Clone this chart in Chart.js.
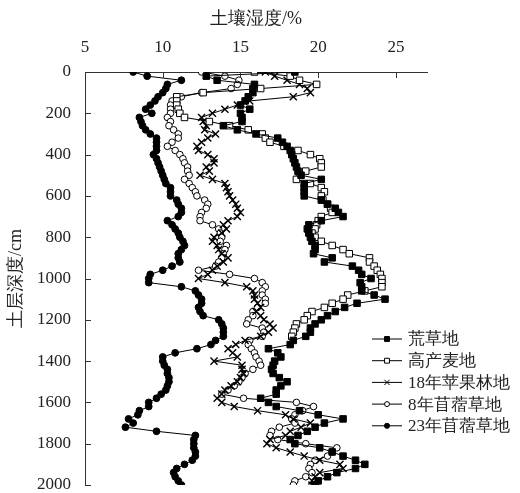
<!DOCTYPE html>
<html>
<head>
<meta charset="utf-8">
<script src="https://cdn.jsdelivr.net/npm/chart.js@4.4.1/dist/chart.umd.min.js"></script>
<style>
  html, body { margin: 0; padding: 0; background: #fff; }
  canvas { display: block; }
</style>
</head>
<body>
<canvas id="moisture" width="520" height="493"></canvas>
<script>
// soil depth of each sample, cm
var depthCm = [
  0, 20, 40, 60, 80, 100, 120, 140, 160, 180,
  200, 220, 240, 260, 280, 300, 320, 340, 360, 380,
  400, 420, 440, 460, 480, 500, 520, 540, 560, 580,
  600, 620, 640, 660, 680, 700, 720, 740, 760, 780,
  800, 820, 840, 860, 880, 900, 920, 940, 960, 980,
  1000, 1020, 1040, 1060, 1080, 1100, 1120, 1140, 1160, 1180,
  1200, 1220, 1240, 1260, 1280, 1300, 1320, 1340, 1360, 1380,
  1400, 1420, 1440, 1460, 1480, 1500, 1520, 1540, 1560, 1580,
  1600, 1620, 1640, 1660, 1680, 1700, 1720, 1740, 1760, 1780,
  1800, 1820, 1840, 1860, 1880, 1900, 1920, 1940, 1960, 1980,
  2000
];

var seriesNames = ['荒草地', '高产麦地', '18年苹果林地', '8年苜蓿草地', '23年苜蓿草地'];

// soil moisture, %
var wasteland = [
  18.5, 12.8, 13.5, 15.9, 15.8, 15.8, 15.5, 15.3, 15.0, 15.6,
  15.0, 15.1, 15.1, 13.9, 14.8, 16.0, 17.4, 17.7, 18.0, 18.2,
  18.3, 18.4, 18.5, 18.6, 18.7, 18.9, 20.2, 19.1, 19.1, 19.1,
  19.1, 20.2, 20.6, 21.1, 21.3, 21.6, 20.2, 19.4, 19.3, 19.4,
  19.5, 19.6, 19.8, 19.8, 19.7, 20.9, 20.4, 22.2, 22.6, 22.8,
  23.4, 22.7, 22.8, 22.8, 23.6, 24.3, 22.5, 21.7, 21.1, 20.6,
  20.2, 19.8, 19.5, 19.5, 19.2, 18.4, 18.2, 16.8, 17.4, 17.6,
  17.2, 17.1, 17.0, 17.1, 17.5, 18.0, 17.6, 17.3, 17.3, 16.3,
  16.8, 17.3, 18.8, 20.0, 21.6, 20.4, 19.8, 19.3, 18.7, 18.2,
  18.5, 20.1, 20.9, 21.6, 22.4, 23.0, 22.4, 21.2, 20.6, 20.0,
  19.8
];

var wheat = [
  15.9, 18.2, 18.8, 19.9, 16.3, 12.6, 10.9, 10.9, 10.9, 11.0,
  11.1, 11.4, 13.0, 14.3, 15.5, 16.4, 16.6, 16.9, 17.8, 18.7,
  19.5, 20.1, 20.2, 20.2, 19.2, 18.8, 18.6, 19.5, 20.2, 20.4,
  20.2, 20.3, 20.6, 20.8, 20.9, 20.2, 20.0, 19.9, 19.8, 19.6,
  19.8, 20.2, 20.9, 21.6, 22.0, 23.3, 23.3, 23.6, 23.8, 24.0,
  24.1, 24.1, 24.1, 23.0, 21.9, 21.6, 20.9, 20.4, 19.6, 19.3,
  19.1, 18.6, 18.5, 18.4, 18.3
];

var apple18 = [
  16.6, 17.2, 18.0, 18.8, 19.3, 19.5, 18.4, 15.6, 14.8, 14.0,
  13.2, 12.5, 12.6, 12.8, 12.7, 13.4, 12.9, 12.5, 12.2, 12.3,
  12.9, 13.3, 13.3, 12.8, 13.0, 12.4, 13.2, 14.0, 14.1, 14.2,
  14.3, 14.5, 14.7, 14.8, 15.0, 14.8, 14.2, 13.9, 14.1, 13.8,
  13.3, 13.2, 13.5, 13.6, 13.8, 14.2, 13.9, 13.5, 13.2, 12.9,
  12.3, 14.0, 15.4, 15.8, 15.9, 15.9, 16.1, 16.3, 16.0, 16.3,
  16.5, 16.9, 17.1, 16.8, 16.3, 15.3, 14.7, 14.2, 14.5, 14.8,
  13.3, 15.1, 15.1, 15.2, 15.0, 14.8, 14.4, 14.0, 13.8, 13.5,
  13.8, 14.6, 16.1, 17.9, 18.4, 19.5, 18.9, 18.2, 17.9, 16.9,
  16.7, 17.3, 18.2, 19.1, 20.1, 21.4, 21.6, 20.1, 19.8, 19.6,
  19.6
];

var alfalfa8 = [
  12.5, 14.0, 14.9, 14.8, 14.4, 12.5, 11.2, 10.6, 10.5, 10.5,
  10.5, 10.3, 10.5, 10.4, 10.7, 11.0, 11.0, 10.6, 10.3, 10.8,
  11.1, 11.3, 11.4, 11.6, 11.6, 11.7, 11.4, 11.7, 11.9, 12.1,
  12.2, 12.7, 12.9, 12.8, 12.5, 12.4, 12.4, 13.2, 13.6, 13.7,
  13.8, 13.7, 14.1, 14.0, 13.9, 13.8, 13.6, 13.4, 12.3, 14.3,
  15.9, 16.4, 16.6, 16.4, 16.4, 16.6, 16.6, 16.1, 15.8, 15.8,
  15.5, 15.4, 16.4, 16.5, 16.4, 15.6, 15.5, 15.7, 15.9, 16.0,
  16.2, 16.3, 15.8, 15.3, 15.1, 14.9, 14.6, 14.2, 13.8, 15.2,
  18.6, 19.7, 19.0, 18.5, 18.3, 18.5, 17.5, 17.0, 16.9, 17.4,
  19.2, 21.2, 20.9, 20.6, 19.8, 19.5, 19.4, 19.6, 19.2, 18.5,
  18.4
];

var alfalfa23 = [
  8.1, 9.0, 11.2, 10.3, 10.2, 10.0, 9.7, 9.5, 9.2, 8.9,
  9.3, 8.5, 8.6, 8.7, 8.9, 9.2, 9.6, 9.6, 9.6, 9.6,
  9.4, 9.6, 9.7, 9.8, 9.9, 10.0, 10.1, 10.2, 10.5, 10.5,
  10.5, 10.9, 11.0, 11.2, 11.2, 11.0, 10.3, 10.6, 10.8, 11.0,
  11.1, 11.3, 11.4, 11.2, 11.0, 11.0, 11.1, 10.6, 10.0, 9.2,
  9.1, 9.1, 11.2, 12.1, 12.3, 12.5, 12.5, 12.3, 12.4, 12.6,
  13.6, 13.8, 13.9, 13.9, 13.9, 13.4, 13.1, 12.2, 10.8, 10.0,
  10.0, 10.1, 10.3, 10.3, 10.4, 10.4, 10.3, 10.2, 9.9, 9.6,
  9.1, 9.1, 8.5, 8.4, 7.8, 8.1, 7.6, 9.6, 12.1, 12.0,
  12.0, 12.0, 12.1, 12.1, 11.9, 11.4, 10.9, 10.7, 10.8, 11.0,
  11.2
];

var xTicks = [5, 10, 15, 20, 25];
var yTicks = [0, 200, 400, 600, 800, 1000, 1200, 1400, 1600, 1800, 2000];

var serif = '"Liberation Serif", serif';
var inkColor = '#222';

function toPoints(values) {
  return values.map(function (v, i) {
    return { x: v, y: depthCm[i] };
  });
}

function profile(label, values, style, radius, fill, edge) {
  return {
    label: label,
    data: toPoints(values),
    showLine: true,
    borderColor: '#000',
    borderWidth: 1,
    pointStyle: style,
    pointRadius: radius,
    pointBackgroundColor: fill,
    pointBorderColor: '#000',
    pointBorderWidth: edge,
    legendRadius: radius * 0.75
  };
}

// keep the plot box fixed: no extra room for overhanging labels
function fixPadding(scale) {
  scale.paddingTop = 0;
  scale.paddingBottom = 0;
  scale.paddingLeft = 0;
  scale.paddingRight = 0;
}

// short tick marks pointing into the plot
var inwardTicks = {
  id: 'inwardTicks',
  afterDraw: function (chart) {
    var ctx = chart.ctx;
    var sx = chart.scales.x;
    var sy = chart.scales.y;
    ctx.save();
    ctx.strokeStyle = '#333';
    ctx.lineWidth = 1;
    ctx.beginPath();
    sx.ticks.forEach(function (t) {
      var px = Math.round(sx.getPixelForValue(t.value)) + 0.5;
      ctx.moveTo(px, sx.bottom);
      ctx.lineTo(px, sx.bottom + 6);
    });
    sy.ticks.forEach(function (t) {
      var py = Math.round(sy.getPixelForValue(t.value)) + 0.5;
      ctx.moveTo(sy.right, py);
      ctx.lineTo(sy.right + 6, py);
    });
    ctx.stroke();
    ctx.restore();
  }
};

// legend inside the lower right corner of the plot
var cornerLegend = {
  id: 'cornerLegend',
  afterDraw: function (chart) {
    var ctx = chart.ctx;
    var area = chart.chartArea;
    var cx = area.right - 40;
    var top = area.top + 267;
    ctx.save();
    chart.data.datasets.forEach(function (ds, i) {
      var yy = top + i * 21.7;
      ctx.strokeStyle = '#000';
      ctx.lineWidth = 1;
      ctx.beginPath();
      ctx.moveTo(cx - 15, yy);
      ctx.lineTo(cx + 15, yy);
      ctx.stroke();
      ctx.fillStyle = ds.pointBackgroundColor;
      ctx.strokeStyle = '#000';
      Chart.helpers.drawPoint(ctx, {
        pointStyle: ds.pointStyle,
        radius: ds.legendRadius,
        rotation: 0,
        borderWidth: 1
      }, cx, yy);
      ctx.fillStyle = inkColor;
      ctx.font = '17px ' + serif;
      ctx.textAlign = 'left';
      ctx.textBaseline = 'middle';
      ctx.fillText(ds.label, cx + 21, yy + 1);
    });
    ctx.restore();
  }
};

new Chart(document.getElementById('moisture'), {
  type: 'scatter',
  data: {
    datasets: [
      profile(seriesNames[0], wasteland, 'rect', 4.6, '#000', 1),
      profile(seriesNames[1], wheat, 'rect', 4.6, '#fff', 1),
      profile(seriesNames[2], apple18, 'crossRot', 5, '#000', 1.4),
      profile(seriesNames[3], alfalfa8, 'circle', 3.3, '#fff', 1),
      profile(seriesNames[4], alfalfa23, 'circle', 3.4, '#000', 1)
    ]
  },
  options: {
    responsive: false,
    animation: false,
    layout: { padding: { top: 0, right: 93, bottom: 8, left: 0 } },
    plugins: {
      legend: { display: false },
      tooltip: { enabled: false }
    },
    scales: {
      x: {
        type: 'linear',
        position: 'top',
        min: 5,
        max: 27,
        afterBuildTicks: function (scale) {
          scale.ticks = xTicks.map(function (v) { return { value: v }; });
        },
        afterFit: function (scale) {
          scale.height = 72;
          fixPadding(scale);
        },
        grid: { display: false, drawTicks: false },
        border: { display: true, color: '#333', width: 1 },
        ticks: {
          color: inkColor,
          padding: 16,
          font: { family: serif, size: 17, lineHeight: 1 },
          callback: function (v) { return String(v); }
        },
        title: {
          display: true,
          text: '土壤湿度/%',
          color: inkColor,
          padding: { top: 8, bottom: 0 },
          font: { family: serif, size: 18 }
        }
      },
      y: {
        type: 'linear',
        reverse: true,
        min: 0,
        max: 2000,
        afterBuildTicks: function (scale) {
          scale.ticks = yTicks.map(function (v) { return { value: v }; });
        },
        afterFit: function (scale) {
          scale.width = 85;
          fixPadding(scale);
        },
        grid: { display: false, drawTicks: false },
        border: { display: true, color: '#333', width: 1 },
        ticks: {
          color: inkColor,
          padding: 14,
          font: { family: serif, size: 17, lineHeight: 1 },
          callback: function (v) { return String(v); }
        },
        title: {
          display: true,
          text: '土层深度/cm',
          color: inkColor,
          padding: { top: 5, bottom: 0 },
          font: { family: serif, size: 18 }
        }
      }
    }
  },
  plugins: [inwardTicks, cornerLegend]
});
</script>
</body>
</html>
